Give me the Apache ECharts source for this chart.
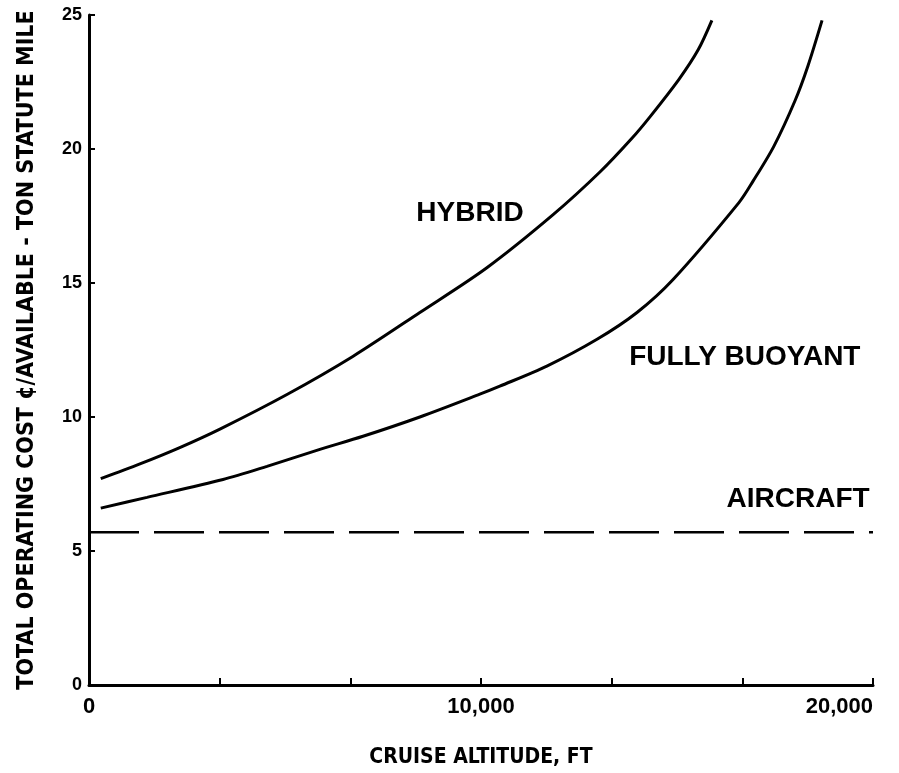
<!DOCTYPE html>
<html>
<head>
<meta charset="utf-8">
<script src="https://cdn.jsdelivr.net/npm/echarts@6/dist/echarts.min.js"></script>
<style>
  html, body { margin: 0; padding: 0; background: #fff; }
  #chart { width: 899px; height: 773px; }
</style>
</head>
<body>
<div id="chart"></div>
<script>
// ---- Data ----
const hybridX = [300, 1300, 2300, 3340, 5050, 6730, 8440, 10150, 11840, 13040, 13850, 14310, 15050, 15540, 15890];
const hybridY = [7.7, 8.25, 8.85, 9.55, 10.84, 12.26, 13.9, 15.57, 17.55, 19.15, 20.4, 21.2, 22.6, 23.7, 24.8];

const buoyantX = [300, 1480, 3420, 4540, 5890, 6990, 8440, 9970, 10480, 11680, 12960, 13980, 14900, 16580, 16940, 17470, 18010, 18340, 18700];
const buoyantY = [6.6, 7.0, 7.67, 8.16, 8.79, 9.28, 10.0, 10.85, 11.15, 11.9, 12.9, 13.9, 15.13, 18.0, 18.8, 20.1, 21.8, 23.1, 24.8];

const aircraftX = [0, 20000];
const aircraftY = [5.7, 5.7];

const labelTexts = ['HYBRID', 'FULLY BUOYANT', 'AIRCRAFT'];
const labelX = [9720, 16730, 18090];
const labelY = [17.62, 12.22, 6.93];

const xTickLabels = ['0', '10,000', '20,000'];
const yTickLabels = ['0', '5', '10', '15', '20', '25'];

const xTitle = 'CRUISE ALTITUDE, FT';
const yTitle = 'TOTAL OPERATING COST \u00A2/AVAILABLE - TON STATUTE MILE';

// ---- Build ----
const zip = (xs, ys) => xs.map((x, i) => [x, ys[i]]);
const NARROW = 'Liberation Sans Narrow, DejaVu Sans Condensed, Liberation Sans, Arial, sans-serif';
const SANS = 'Liberation Sans, Arial, sans-serif';
const chart = echarts.init(document.getElementById('chart'), null, { renderer: 'canvas' });

const option = {
  animation: false,
  backgroundColor: '#ffffff',
  grid: { left: 89, right: 26, top: 15, bottom: 87, containLabel: false },
  xAxis: {
    type: 'value',
    min: 0,
    max: 20000,
    interval: 20000 / 6,
    name: xTitle,
    nameLocation: 'middle',
    nameGap: 62,
    nameTextStyle: { color: '#000', fontFamily: NARROW, fontWeight: 'bold', fontSize: 21 },
    axisLine: { show: true, lineStyle: { color: '#000', width: 3 } },
    axisTick: { show: true, inside: true, length: 7, lineStyle: { color: '#000', width: 2 } },
    splitLine: { show: false },
    axisLabel: {
      color: '#000',
      fontFamily: SANS,
      fontWeight: 'bold',
      fontSize: 22,
      margin: 11,
      alignMaxLabel: 'right',
      showMinLabel: true,
      showMaxLabel: true,
      formatter: function (v) {
        const r = Math.round(v);
        if (r % 10000 === 0) return xTickLabels[r / 10000];
        return '';
      }
    }
  },
  yAxis: {
    type: 'value',
    min: 0,
    max: 25,
    interval: 5,
    name: yTitle,
    nameLocation: 'middle',
    nameRotate: 90,
    nameGap: 50,
    nameTextStyle: { color: '#000', fontFamily: NARROW, fontWeight: 'bold', fontSize: 23 },
    axisLine: { show: true, lineStyle: { color: '#000', width: 3 } },
    axisTick: { show: true, inside: true, length: 6, lineStyle: { color: '#000', width: 2 } },
    splitLine: { show: false },
    axisLabel: {
      color: '#000',
      fontFamily: SANS,
      fontWeight: 'bold',
      fontSize: 18,
      margin: 7,
      formatter: function (v) { return yTickLabels[Math.round(v / 5)]; }
    }
  },
  series: [
    {
      name: 'HYBRID',
      type: 'line',
      data: zip(hybridX, hybridY),
      smooth: 0.3,
      showSymbol: false,
      symbol: 'none',
      lineStyle: { color: '#000', width: 3 }
    },
    {
      name: 'FULLY BUOYANT',
      type: 'line',
      data: zip(buoyantX, buoyantY),
      smooth: 0.3,
      showSymbol: false,
      symbol: 'none',
      lineStyle: { color: '#000', width: 3 }
    },
    {
      name: 'AIRCRAFT',
      type: 'line',
      data: zip(aircraftX, aircraftY),
      showSymbol: false,
      symbol: 'none',
      lineStyle: { color: '#000', width: 2.5, type: [50, 15] }
    },
    {
      name: 'labels',
      type: 'scatter',
      symbolSize: 1,
      silent: true,
      itemStyle: { color: 'rgba(0,0,0,0)', opacity: 1 },
      data: labelTexts.map((t, i) => ({ value: [labelX[i], labelY[i]], name: t })),
      label: {
        show: true,
        position: 'inside',
        formatter: p => p.name,
        color: '#000',
        opacity: 1,
        textBorderWidth: 0,
        fontFamily: SANS,
        fontWeight: 'bold',
        fontSize: 28
      }
    }
  ]
};
chart.setOption(option);
</script>
</body>
</html>
